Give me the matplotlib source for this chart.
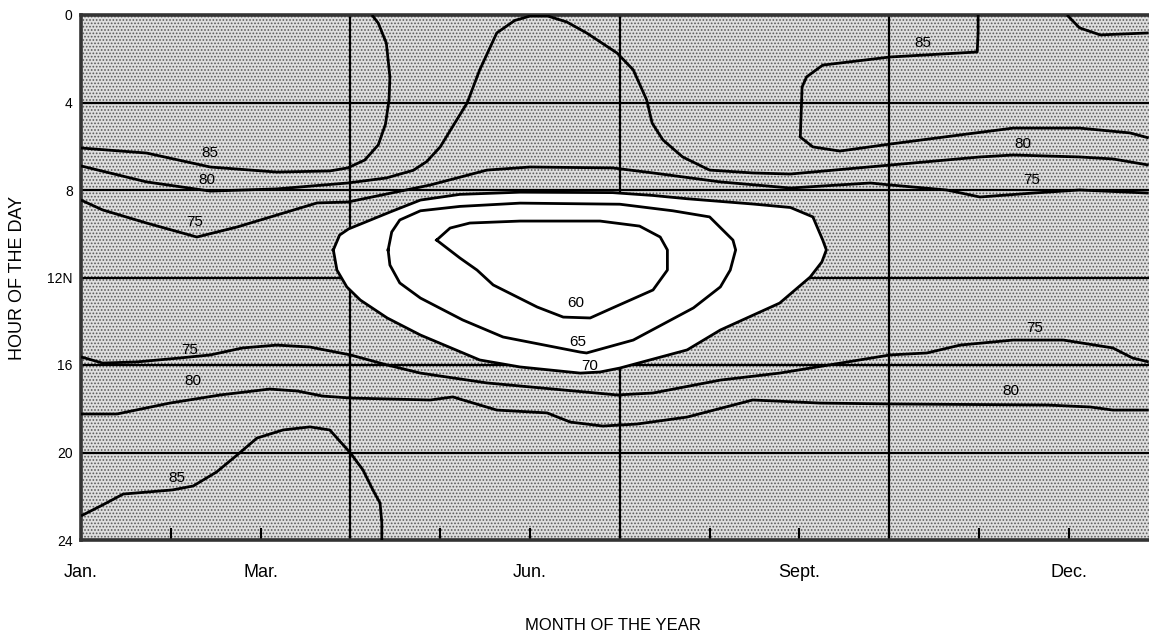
import matplotlib
matplotlib.use("Agg")
import numpy as np
import matplotlib.pyplot as plt
from matplotlib.patches import Rectangle, Polygon

# isopleths: (month index from Jan=0, hour of day)
rh85_upper_left = [(0.00, 6.08), (0.73, 6.31), (1.44, 6.95), (2.18, 7.18), (2.77, 7.13),
                   (2.97, 6.99), (3.16, 6.63), (3.31, 5.94), (3.39, 5.00), (3.43, 3.89),
                   (3.44, 2.83), (3.40, 1.28), (3.31, 0.37), (3.24, 0.00)]

rh80_upper = [(0.00, 6.90), (0.73, 7.63), (1.44, 8.05), (2.18, 7.95), (2.97, 7.68),
              (3.40, 7.45), (3.70, 7.10), (3.85, 6.70), (4.00, 6.03), (4.30, 4.02),
              (4.44, 2.51), (4.63, 0.82), (4.83, 0.25), (5.00, 0.05), (5.20, 0.05),
              (5.41, 0.32), (5.63, 0.82), (5.97, 1.74), (6.15, 2.51), (6.30, 3.89),
              (6.36, 4.94), (6.48, 5.71), (6.70, 6.49), (7.00, 7.09), (7.48, 7.22),
              (7.90, 7.27), (9.01, 6.86), (10.01, 6.49), (10.38, 6.40), (11.12, 6.49),
              (11.49, 6.58), (11.89, 6.86)]

rh75_upper = [(0.00, 8.46), (0.24, 8.91), (0.73, 9.51), (1.29, 10.15), (1.74, 9.69),
              (2.63, 8.59), (2.97, 8.55), (3.89, 7.77), (4.52, 7.09), (5.00, 6.95),
              (5.92, 6.99), (6.37, 7.22), (7.12, 7.63), (7.90, 7.91), (8.79, 7.68),
              (9.01, 7.77), (9.64, 8.00), (10.01, 8.32), (10.60, 8.14), (11.12, 8.00),
              (11.89, 8.14)]

rh70_loop = [(2.81, 10.74), (2.88, 10.06), (2.98, 9.78), (3.44, 9.01), (3.78, 8.46),
             (4.22, 8.20), (4.89, 8.10), (5.92, 8.12), (6.37, 8.25), (6.75, 8.40),
             (7.48, 8.64), (7.90, 8.80), (8.15, 9.23), (8.26, 10.29), (8.30, 10.74),
             (8.25, 11.29), (8.12, 11.98), (7.78, 13.17), (7.12, 14.40), (6.75, 15.31),
             (6.00, 16.14), (5.78, 16.32), (5.56, 16.37), (4.89, 16.09), (4.44, 15.77),
             (3.78, 14.63), (3.41, 13.85), (3.11, 13.03), (2.96, 12.43), (2.85, 11.66)]

rh65_loop = [(3.42, 10.74), (3.46, 9.92), (3.55, 9.37), (3.78, 8.95), (4.22, 8.75),
             (4.89, 8.60), (6.00, 8.65), (6.59, 8.95), (7.00, 9.23), (7.26, 10.29),
             (7.29, 10.74), (7.23, 11.66), (7.12, 12.43), (6.82, 13.39), (6.15, 14.86),
             (5.63, 15.45), (5.56, 15.41), (4.70, 14.72), (4.25, 13.94), (3.78, 12.94),
             (3.55, 12.25), (3.44, 11.43)]

rh60_loop = [(3.96, 10.29), (4.11, 9.74), (4.33, 9.51), (4.89, 9.42), (5.78, 9.42),
             (6.22, 9.65), (6.45, 10.15), (6.53, 10.74), (6.53, 11.66), (6.37, 12.57),
             (5.92, 13.39), (5.67, 13.85), (5.37, 13.81), (5.08, 13.35), (4.59, 12.34),
             (4.41, 11.66), (4.22, 11.11)]

rh85_upper_right = [(9.99, 0.00), (9.99, 0.82), (9.98, 1.69), (9.01, 1.92), (8.26, 2.29),
                    (8.08, 2.83), (8.03, 3.29), (8.01, 5.58), (8.15, 6.03), (8.45, 6.22),
                    (9.01, 5.90), (9.87, 5.44), (10.38, 5.17), (11.12, 5.17), (11.68, 5.39),
                    (11.89, 5.62)]

rh85_corner = [(10.98, 0.00), (11.12, 0.59), (11.35, 0.91), (11.89, 0.82)]

rh75_lower = [(0.00, 15.63), (0.24, 15.91), (0.62, 15.86), (1.10, 15.68), (1.44, 15.54),
              (1.80, 15.22), (2.18, 15.09), (2.55, 15.18), (3.00, 15.54), (3.41, 16.00),
              (3.78, 16.37), (4.52, 16.82), (5.97, 17.37), (6.37, 17.28), (7.12, 16.69),
              (7.78, 16.37), (9.01, 15.54), (9.42, 15.45), (9.79, 15.09), (10.38, 14.86),
              (10.94, 14.86), (11.49, 15.22), (11.71, 15.68), (11.89, 15.86)]

rh80_lower = [(0.00, 18.24), (0.40, 18.24), (0.99, 17.74), (1.55, 17.37), (2.10, 17.10),
              (2.41, 17.19), (2.69, 17.42), (3.00, 17.51), (3.89, 17.60), (4.14, 17.46),
              (4.63, 18.06), (5.19, 18.19), (5.45, 18.61), (5.81, 18.79), (6.19, 18.70),
              (6.75, 18.38), (7.48, 17.60), (8.23, 17.74), (9.01, 17.78), (10.76, 17.83),
              (11.24, 17.92), (11.49, 18.06), (11.89, 18.06)]

rh85_lower_left = [(0.00, 22.90), (0.24, 22.40), (0.47, 21.90), (1.02, 21.71), (1.25, 21.53),
                   (1.51, 20.89), (1.74, 20.11), (1.96, 19.34), (2.25, 18.97), (2.55, 18.83),
                   (2.77, 18.97), (3.00, 20.02), (3.14, 20.80), (3.25, 21.71), (3.33, 22.31),
                   (3.35, 23.22), (3.35, 24.00)]

line_labels = [("85", 1.44, 6.31), ("80", 1.40, 7.54), ("75", 1.27, 9.46),
               ("75", 1.21, 15.31), ("80", 1.25, 16.73), ("85", 1.07, 21.17),
               ("60", 5.51, 13.17), ("65", 5.53, 14.95), ("70", 5.67, 16.05),
               ("85", 9.38, 1.28), ("80", 10.49, 5.90), ("75", 10.59, 7.54),
               ("75", 10.62, 14.31), ("80", 10.35, 17.19)]

months = ["Jan.", "", "Mar.", "", "", "Jun.", "", "", "Sept.", "", "", "Dec."]
hour_ticks = [0, 4, 8, 12, 16, 20, 24]
hour_labels = ["0", "4", "8", "12N", "16", "20", "24"]


plt.rcParams['font.family'] = ['Liberation Sans', 'DejaVu Sans']
plt.rcParams['hatch.linewidth'] = 0.8

fig = plt.figure(figsize=(11.49, 6.41), dpi=100)
ax = fig.add_axes([81 / 1149, 101 / 641, 1077.6 / 1149, 525 / 641])

# stippled background (hatch takes the edge colour)
ax.add_patch(Rectangle((0, 0), 12, 24, facecolor='#dedede', edgecolor='#5a5a5a',
                       linewidth=0, hatch='.....', zorder=0))

for m in [3, 6, 9]:
    ax.axvline(m, color='black', lw=1.6, zorder=1)
for h in [4, 8, 12, 16, 20]:
    ax.axhline(h, color='black', lw=1.6, zorder=1)

# area under 70 is left white
ax.add_patch(Polygon(rh70_loop, closed=True, facecolor='white', edgecolor='none', zorder=2))

for pts in [rh85_upper_left, rh80_upper, rh75_upper, rh85_upper_right, rh85_corner,
            rh75_lower, rh80_lower, rh85_lower_left]:
    p = np.array(pts)
    ax.plot(p[:, 0], p[:, 1], color='black', lw=2.0, zorder=3, solid_capstyle='butt')
for pts in [rh70_loop, rh65_loop, rh60_loop]:
    p = np.array(pts + pts[:1])
    ax.plot(p[:, 0], p[:, 1], color='black', lw=2.0, zorder=3)

for txt, m, h in line_labels:
    ax.text(m, h, txt, fontsize=11, ha='center', va='center', zorder=4)

ax.set_xlim(0, 12)
ax.set_ylim(24, 0)

ax.set_xticks(range(12))
ax.set_xticklabels(months, fontsize=13)
ax.tick_params(axis='x', direction='in', length=9, width=1.5, pad=17)
ax.set_yticks(hour_ticks)
ax.set_yticklabels(hour_labels, fontsize=10)
ax.tick_params(axis='y', length=0, pad=6)

for side in ['left', 'bottom', 'top']:
    ax.spines[side].set_linewidth(2.6)
    ax.spines[side].set_color('#333333')
ax.spines['right'].set_visible(False)

fig.text(613 / 1149, 1 - 626 / 641, "MONTH OF THE YEAR", fontsize=12, ha='center', va='center')
fig.text(18 / 1149, 1 - 278 / 641, "HOUR OF THE DAY", fontsize=13, rotation=90,
         ha='center', va='center')

fig.savefig("out.png", dpi=100)
